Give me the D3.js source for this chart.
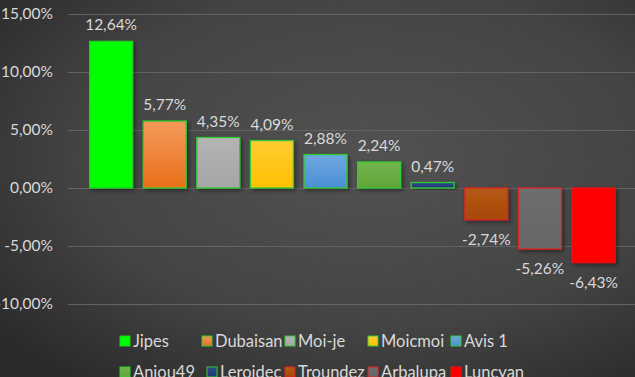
<!DOCTYPE html>
<html><head><meta charset="utf-8">
<script src="https://cdn.jsdelivr.net/npm/d3@7"></script>
<style>html,body{margin:0;padding:0;background:#3a3a3a;overflow:hidden}svg{display:block}</style>
</head><body>
<svg id="c" width="635" height="377"></svg>
<script>
const categories = ["Jipes","Dubaisan","Moi-je","Moicmoi","Avis 1","Anjou49","Leroidec","Troundez","Arbalupa","Luncyan"];
const values = [12.64, 5.77, 4.35, 4.09, 2.88, 2.24, 0.47, -2.74, -5.26, -6.43];
const yTicks = [15, 10, 5, 0, -5, -10];
const fillTop = ["#00ff00","#f39a5a","#b4b4b4","#ffcc33","#6fa8e0","#74b54c","#2e4a8a","#b65a16","#6e6e6e","#ff0000"];
const fillBot = ["#00ff00","#e8701a","#a6a6a6","#ffc000","#4a8fd6","#5fa43a","#1f3870","#a74706","#666666","#ff0000"];
const strokes = ["#22cc22","#33cc33","#33cc33","#33cc33","#33cc33","#33cc33","#33cc33","#dd2222","#dd2222","#ee1111"];

const svg = d3.select("#c");
const defs = svg.append("defs");
const bg = defs.append("radialGradient").attr("id","bg").attr("cx","0.58").attr("cy","0.42").attr("r","0.75");
bg.append("stop").attr("offset","0").attr("stop-color","#525252");
bg.append("stop").attr("offset","0.6").attr("stop-color","#444444");
bg.append("stop").attr("offset","1").attr("stop-color","#2a2a2a");
categories.forEach((c,i)=>{
  const g = defs.append("linearGradient").attr("id","g"+i).attr("x1",0).attr("y1",0).attr("x2",0).attr("y2",1);
  g.append("stop").attr("offset",0).attr("stop-color",fillTop[i]);
  g.append("stop").attr("offset",1).attr("stop-color",fillBot[i]);
});
const f = defs.append("filter").attr("id","sh").attr("x","-20%").attr("y","-20%").attr("width","150%").attr("height","150%");
f.append("feDropShadow").attr("dx",2).attr("dy",2).attr("stdDeviation",2).attr("flood-color","#000").attr("flood-opacity",0.45);

svg.append("rect").attr("width",635).attr("height",377).attr("fill","url(#bg)");

const y = d3.scaleLinear().domain([-10,15]).range([304,14]);
const x = d3.scaleBand().domain(categories).range([84.3,620.3]).paddingInner(0.18).paddingOuter(0.09);

const fmt = v => d3.format(".2f")(v).replace(".",",").replace("−","-") + "%";
const font = "Lato, 'Open Sans', sans-serif";

// gridlines
svg.append("g").selectAll("line").data(yTicks).join("line")
  .attr("x1",68).attr("x2",635).attr("y1",d=>Math.round(y(d))+0.5).attr("y2",d=>Math.round(y(d))+0.5)
  .attr("stroke","#636363").attr("stroke-width",1);

// y axis labels
const yAxis = d3.axisLeft(y).tickValues(yTicks).tickSize(0).tickPadding(0).tickFormat(fmt);
const ya = svg.append("g").attr("transform","translate(53,0)").call(yAxis);
ya.select(".domain").remove();
ya.selectAll("text").attr("fill","#d9d9d9").attr("font-family",font).attr("font-size","15.5px");

// bars
svg.append("g").selectAll("rect").data(values).join("rect")
  .attr("x",(d,i)=>x(categories[i])+0.5)
  .attr("y",d=>y(Math.max(0,d)))
  .attr("width",x.bandwidth()-1)
  .attr("height",d=>Math.abs(y(d)-y(0)))
  .attr("fill",(d,i)=>"url(#g"+i+")")
  .attr("stroke",(d,i)=>strokes[i]).attr("stroke-width",1.3)
  .attr("filter","url(#sh)");

// value labels
svg.append("g").selectAll("text").data(values).join("text")
  .attr("x",(d,i)=>x(categories[i])+x.bandwidth()/2)
  .attr("y",d=> d>=0 ? y(d)-11 : y(d)+25)
  .attr("text-anchor","middle")
  .attr("fill","#d9d9d9").attr("font-family",font).attr("font-size","15.5px")
  .text(fmt);

// legend
const legX = [120,202,285,368,451];
const legRowY = [341,372];
const lg = svg.append("g");
categories.forEach((c,i)=>{
  const col = i%5, row = Math.floor(i/5);
  const lx = legX[col] + (row===1 && col===1 ? 5 : 0), ly = legRowY[row];
  lg.append("rect").attr("x",lx).attr("y",ly-5).attr("width",10).attr("height",10)
    .attr("fill","url(#g"+i+")").attr("stroke",strokes[i]).attr("stroke-width",1);
  lg.append("text").attr("x",lx+13).attr("y",ly).attr("dy","0.35em")
    .attr("fill","#d9d9d9").attr("font-family",font).attr("font-size","16.5px").text(c);
});
</script>
</body></html>
